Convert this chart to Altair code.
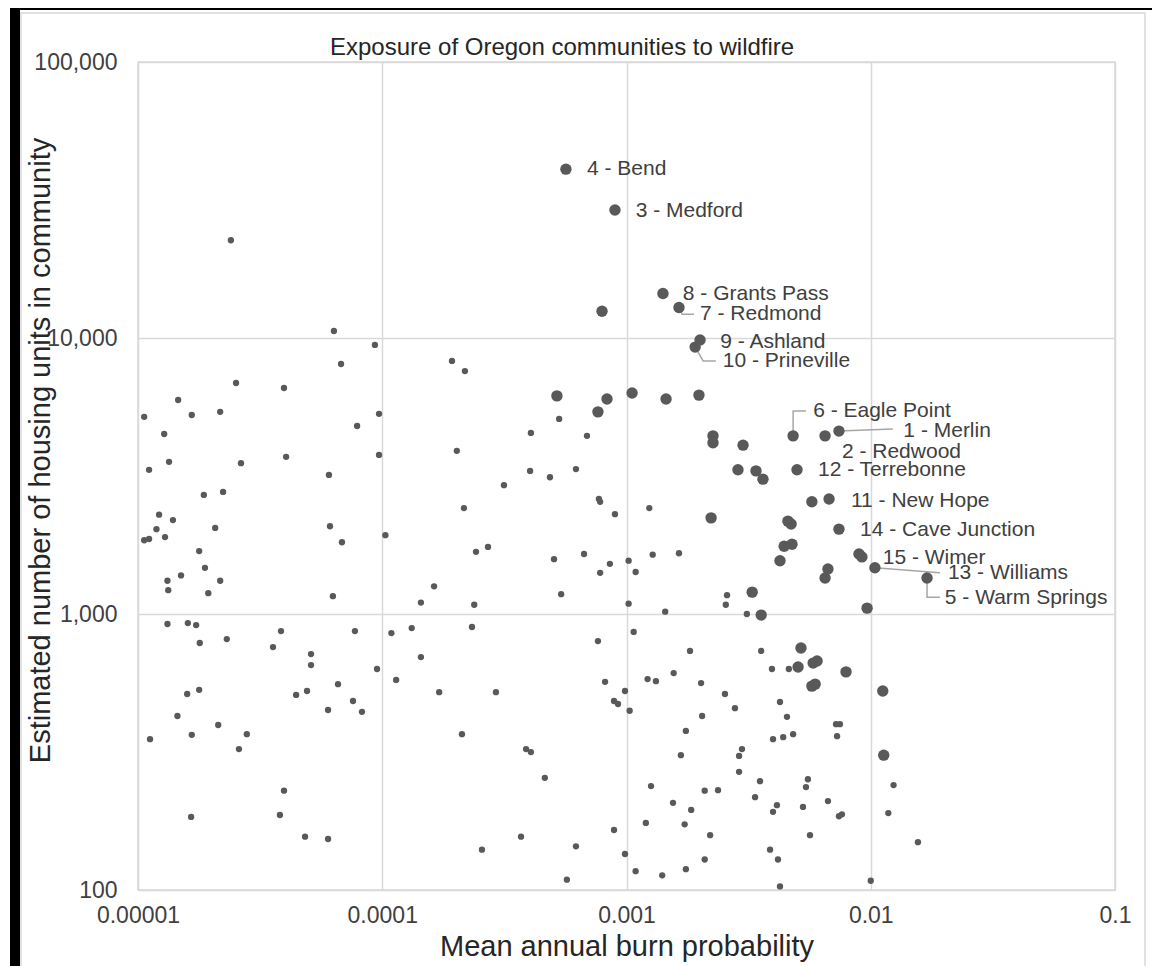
import altair as alt
import pandas as pd

FONT = "Liberation Sans"

# ---------------- data ----------------
# large markers (labelled and unlabelled larger communities)
big_x = [5.65e-4, 8.97e-4, 1.41e-3, 7.94e-4, 1.64e-3, 2.00e-3, 1.91e-3, 5.19e-4, 8.32e-4, 1.054e-3,
         1.452e-3, 1.98e-3, 7.64e-4, 2.26e-3, 2.26e-3, 3.00e-3, 4.81e-3, 6.50e-3, 7.41e-3, 2.86e-3,
         3.39e-3, 3.62e-3, 4.99e-3, 5.74e-3, 6.75e-3, 2.22e-3, 4.58e-3, 4.72e-3, 7.41e-3, 4.42e-3,
         4.76e-3, 4.25e-3, 8.95e-3, 9.20e-3, 1.04e-2, 1.70e-2, 6.68e-3, 6.50e-3, 3.27e-3, 3.56e-3,
         9.66e-3, 5.18e-3, 5.04e-3, 5.81e-3, 6.03e-3, 7.92e-3, 5.74e-3, 5.92e-3, 1.12e-2, 1.13e-2]
big_y = [40900, 29100, 14500, 12500, 12900, 9840, 9270, 6170, 6010, 6320,
         6010, 6210, 5400, 4420, 4170, 4090, 4420, 4420, 4600, 3330,
         3300, 3080, 3330, 2550, 2610, 2230, 2170, 2120, 2030, 1760,
         1790, 1560, 1650, 1610, 1470, 1350, 1455, 1350, 1200, 991,
         1050, 753, 643, 664, 676, 617, 548, 557, 526, 308]

# small markers
small_x = [6.34e-5, 9.33e-5, 6.78e-5, 1.93e-4, 2.18e-4, 2.52e-5, 3.96e-5, 1.46e-5, 1.06e-5, 1.66e-5,
           2.17e-5, 9.70e-5, 7.89e-5, 1.28e-5, 9.70e-5, 1.34e-5, 2.64e-5, 1.11e-5, 4.04e-5, 2.02e-4,
           6.05e-5, 1.86e-5, 2.23e-5, 2.16e-4, 1.22e-5, 1.39e-5, 1.19e-5, 2.07e-5, 6.11e-5, 1.06e-5,
           1.11e-5, 1.29e-5, 6.84e-5, 1.03e-4, 1.78e-5, 2.42e-4, 1.88e-5, 1.50e-5, 1.32e-5, 1.33e-5,
           2.17e-5, 1.94e-5, 6.28e-5, 1.63e-4, 1.44e-4, 2.38e-4, 1.32e-5, 1.60e-5, 1.73e-5, 1.79e-5,
           2.31e-5, 3.85e-5, 3.57e-5, 7.73e-5, 1.09e-4, 1.32e-4, 2.33e-4, 5.11e-5, 5.11e-5, 9.52e-5,
           1.44e-4, 1.14e-4, 6.59e-5, 1.71e-4, 1.59e-5, 1.78e-5, 4.44e-5, 4.92e-5, 7.59e-5, 8.26e-5,
           6.00e-5, 1.45e-5, 2.13e-5, 1.12e-5, 1.66e-5, 2.79e-5, 2.59e-5, 2.12e-4, 3.96e-5, 1.65e-5,
           3.81e-5, 4.83e-5, 6.00e-5, 2.56e-4, 2.40e-5, 5.30e-4, 4.06e-4, 6.89e-4, 4.03e-4, 4.86e-4,
           6.21e-4, 3.15e-4, 7.71e-4, 7.80e-4, 8.97e-4, 1.24e-3, 2.71e-4, 5.05e-4, 6.70e-4, 8.55e-4,
           7.80e-4, 1.02e-3, 1.09e-3, 1.28e-3, 1.64e-3, 5.40e-4, 1.02e-3, 1.44e-3, 2.58e-3, 2.55e-3,
           3.11e-3, 7.64e-4, 1.07e-3, 1.82e-3, 3.56e-3, 3.94e-3, 4.62e-3, 1.56e-3, 1.22e-3, 1.32e-3,
           2.02e-3, 8.17e-4, 2.92e-4, 9.86e-4, 8.89e-4, 9.23e-4, 1.03e-3, 2.53e-3, 2.78e-3, 2.04e-3,
           4.25e-3, 4.54e-3, 3.98e-3, 4.38e-3, 4.81e-3, 1.75e-3, 1.67e-3, 3.88e-4, 4.06e-4, 2.97e-3,
           2.89e-3, 2.89e-3, 4.63e-4, 1.26e-3, 3.52e-3, 2.09e-3, 2.37e-3, 3.36e-3, 1.55e-3, 1.84e-3,
           4.13e-3, 3.98e-3, 1.20e-3, 1.73e-3, 8.89e-4, 2.20e-3, 3.70e-4, 6.21e-4, 9.86e-4, 3.87e-3,
           4.17e-3, 2.09e-3, 1.09e-3, 1.40e-3, 1.75e-3, 5.70e-4, 4.25e-3, 7.21e-3, 7.48e-3, 7.28e-3,
           1.24e-2, 5.53e-3, 5.43e-3, 6.68e-3, 5.28e-3, 7.41e-3, 7.62e-3, 1.18e-2, 5.64e-3, 1.56e-2,
           1.00e-2]
small_y = [10600, 9440, 8050, 8260, 7590, 6870, 6590, 5960, 5180, 5260,
           5400, 5310, 4800, 4490, 3770, 3560, 3520, 3330, 3710, 3900,
           3190, 2700, 2770, 2420, 2290, 2190, 2030, 2050, 2080, 1850,
           1870, 1900, 1820, 1930, 1690, 1680, 1470, 1380, 1320, 1220,
           1320, 1190, 1160, 1260, 1100, 1080, 920, 927, 912, 785,
           811, 867, 759, 867, 853, 889, 897, 716, 653, 632,
           698, 577, 557, 521, 513, 531, 509, 526, 484, 442,
           449, 427, 396, 352, 365, 367, 324, 367, 229, 184,
           187, 156, 153, 140, 22600, 5090, 4530, 4420, 3300, 3130,
           3350, 2930, 2610, 2550, 2300, 2420, 1750, 1580, 1650, 1520,
           1410, 1560, 1420, 1640, 1660, 1180, 1090, 1020, 1170, 1080,
           1000, 798, 861, 735, 735, 632, 632, 611, 581, 571,
           562, 568, 521, 526, 484, 472, 446, 513, 456, 427,
           480, 424, 352, 358, 367, 377, 308, 324, 316, 324,
           306, 268, 255, 238, 248, 229, 230, 217, 207, 195,
           203, 192, 175, 173, 165, 158, 156, 144, 135, 140,
           129, 129, 117, 113, 119, 109, 103, 399, 399, 361,
           240, 252, 236, 210, 200, 185, 188, 190, 158, 149,
           108]

# community labels and where their text starts
label_text = ["4 - Bend", "3 - Medford", "8 - Grants Pass", "7 - Redmond", "9 - Ashland",
              "10 - Prineville", "6 - Eagle Point", "1 - Merlin", "2 - Redwood", "12 - Terrebonne",
              "11 - New Hope", "14 - Cave Junction", "15 - Wimer", "13 - Williams", "5 - Warm Springs"]
label_x = [6.89e-4, 1.09e-3, 1.70e-3, 2.00e-3, 2.42e-3,
           2.48e-3, 5.81e-3, 1.36e-2, 7.62e-3, 6.08e-3,
           8.30e-3, 9.04e-3, 1.12e-2, 2.07e-2, 2.01e-2]
label_y = [40900, 28800, 14400, 12200, 9680,
           8260, 5440, 4600, 3860, 3330,
           2560, 2010, 1600, 1410, 1140]

# leader lines (point -> elbow -> label)
leader_id = ["7", "7", "7", "10", "10", "10", "6", "6", "6", "1", "1", "13", "13", "5", "5", "5"]
leader_seq = [0, 1, 2, 0, 1, 2, 0, 1, 2, 0, 1, 0, 1, 0, 1, 2]
leader_x = [1.64e-3, 1.69e-3, 1.89e-3, 1.91e-3, 2.06e-3, 2.32e-3, 4.81e-3, 4.81e-3, 5.43e-3,
            7.41e-3, 1.23e-2, 1.04e-2, 1.92e-2, 1.70e-2, 1.70e-2, 1.92e-2]
leader_y = [12900, 12200, 12200, 9270, 8260, 8260, 4420, 5440, 5440,
            4600, 4680, 1470, 1410, 1350, 1150, 1150]

x_ticks = [0.00001, 0.0001, 0.001, 0.01, 0.1]
y_ticks = [100, 1000, 10000, 100000]

title_text = "Exposure of Oregon communities to wildfire"
x_title = "Mean annual burn probability"
y_title = "Estimated number of housing units in community"

# ---------------- chart ----------------
W, H = 977, 828
PT_COLOR = "#595959"
TXT = "#404040"

x_enc = alt.X("x:Q",
              scale=alt.Scale(type="log", domain=[x_ticks[0], x_ticks[-1]], nice=False),
              axis=alt.Axis(values=x_ticks, labelExpr="format(datum.value, '.5~f')",
                            labelFlush=False, title=x_title, labelPadding=14, titlePadding=5))
y_enc = alt.Y("y:Q",
              scale=alt.Scale(type="log", domain=[y_ticks[0], y_ticks[-1]], nice=False),
              axis=alt.Axis(values=y_ticks, format=",", title=y_title, labelPadding=21,
                            labelFlush=False,
                            titleX=-98, titleY=388, titleBaseline="middle", titleAlign="center"))

small_df = pd.DataFrame({"x": small_x, "y": small_y})
big_df = pd.DataFrame({"x": big_x, "y": big_y})
lab_df = pd.DataFrame({"x": label_x, "y": label_y, "t": label_text})
lead_df = pd.DataFrame({"x": leader_x, "y": leader_y, "id": leader_id, "seq": leader_seq})
one = pd.DataFrame({"k": [0]})

# decorative frame of the original picture
frame_left = alt.Chart(one).mark_rect(color="black").encode(
    x=alt.value(-128), x2=alt.value(-118), y=alt.value(-62), y2=alt.value(H + 90))
frame_top = alt.Chart(one).mark_rect(color="black").encode(
    x=alt.value(-128), x2=alt.value(W + 45), y=alt.value(-62), y2=alt.value(-52))
chart_border = alt.Chart(one).mark_rect(fillOpacity=0, stroke="#d9d9d9", strokeWidth=1.5).encode(
    x=alt.value(-117), x2=alt.value(W + 30), y=alt.value(-49), y2=alt.value(H + 100))

leaders = alt.Chart(lead_df).mark_line(color="#a6a6a6", strokeWidth=1.5).encode(
    x=x_enc, y=y_enc, detail="id:N", order="seq:Q")
small_pts = alt.Chart(small_df).mark_circle(size=40, color=PT_COLOR, opacity=1).encode(x=x_enc, y=y_enc)
big_pts = alt.Chart(big_df).mark_circle(size=130, color=PT_COLOR, opacity=1).encode(x=x_enc, y=y_enc)
labels = alt.Chart(lab_df).mark_text(align="left", baseline="middle", font=FONT, fontSize=21,
                                     color=TXT).encode(x=x_enc, y=y_enc, text="t:N")
title = alt.Chart(one).mark_text(align="left", baseline="alphabetic", font=FONT, fontSize=24,
                                 color="#262626", text=title_text).encode(
    x=alt.value(192), y=alt.value(-7))

chart = alt.layer(frame_left, frame_top, chart_border,
                  leaders, small_pts, big_pts, labels, title).properties(
    width=W, height=H,
    autosize=alt.AutoSizeParams(type="none"),
    padding={"left": 130, "top": 54, "right": 37, "bottom": 80},
    background="white",
).configure_view(
    stroke="#d9d9d9", strokeWidth=1.5
).configure_axis(
    grid=True, gridColor="#d9d9d9", gridWidth=1.5,
    domain=False, ticks=False, tickSize=0,
    labelFont=FONT, labelFontSize=23, labelColor=TXT,
    titleFont=FONT, titleFontSize=29, titleColor="#262626", titleFontWeight="normal",
)

chart.save("out.html", embed_options={"renderer": "svg", "actions": False})
